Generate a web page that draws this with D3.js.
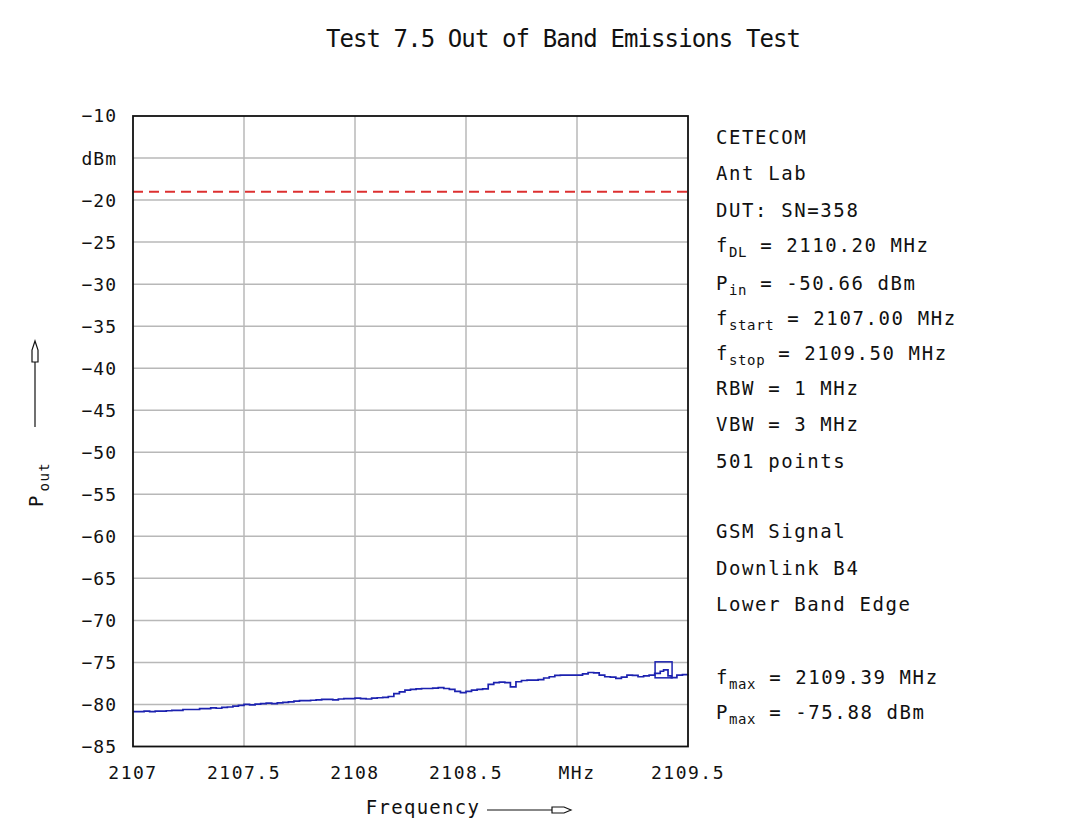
<!DOCTYPE html>
<html><head><meta charset="utf-8">
<script src="https://cdn.jsdelivr.net/npm/d3@7"></script>
<style>
body{margin:0;background:#fff;}
text{font-family:"DejaVu Sans Mono",monospace;fill:#111;}
</style></head>
<body><svg id="c" width="1086" height="818"></svg>
<script>
const title = "Test 7.5 Out of Band Emissions Test";
const xTicks = [2107, 2107.5, 2108, 2108.5, 2109, 2109.5];
const xTickLabels = ["2107", "2107.5", "2108", "2108.5", "MHz", "2109.5"];
const yTicks = [-10,-15,-20,-25,-30,-35,-40,-45,-50,-55,-60,-65,-70,-75,-80,-85];
const yTickLabels = ["-10","dBm","-20","-25","-30","-35","-40","-45","-50","-55","-60","-65","-70","-75","-80","-85"];
const limitLevel = -19;
const freq = [2107.000,2107.025,2107.050,2107.075,2107.100,2107.125,2107.150,2107.175,2107.200,2107.225,
2107.250,2107.275,2107.300,2107.325,2107.350,2107.375,2107.400,2107.425,2107.450,2107.475,
2107.500,2107.525,2107.550,2107.575,2107.600,2107.625,2107.650,2107.675,2107.700,2107.725,
2107.750,2107.775,2107.800,2107.825,2107.850,2107.875,2107.900,2107.925,2107.950,2107.975,
2108.000,2108.025,2108.050,2108.075,2108.100,2108.125,2108.150,2108.175,2108.200,2108.225,
2108.250,2108.275,2108.300,2108.325,2108.350,2108.375,2108.400,2108.425,2108.450,2108.475,
2108.500,2108.525,2108.550,2108.575,2108.600,2108.625,2108.650,2108.675,2108.700,2108.725,
2108.750,2108.775,2108.800,2108.825,2108.850,2108.875,2108.900,2108.925,2108.950,2108.975,
2109.000,2109.025,2109.050,2109.075,2109.100,2109.125,2109.150,2109.175,2109.200,2109.225,
2109.250,2109.275,2109.300,2109.325,2109.350,2109.375,2109.390,2109.410,2109.425,2109.450,
2109.475,2109.500];
const power = [-80.85,-80.85,-80.80,-80.85,-80.80,-80.80,-80.75,-80.70,-80.70,-80.60,
-80.60,-80.60,-80.50,-80.50,-80.40,-80.45,-80.35,-80.30,-80.20,-80.10,
-80.00,-80.05,-79.95,-79.90,-79.85,-79.90,-79.80,-79.75,-79.70,-79.60,
-79.55,-79.55,-79.50,-79.45,-79.40,-79.40,-79.45,-79.35,-79.30,-79.30,
-79.25,-79.30,-79.35,-79.25,-79.20,-79.15,-79.05,-78.70,-78.50,-78.30,
-78.20,-78.15,-78.10,-78.10,-78.05,-78.00,-78.10,-78.20,-78.45,-78.60,
-78.45,-78.30,-78.20,-78.15,-77.60,-77.40,-77.35,-77.40,-77.90,-77.30,
-77.15,-77.10,-77.10,-77.05,-76.85,-76.70,-76.55,-76.50,-76.50,-76.50,
-76.50,-76.35,-76.20,-76.25,-76.50,-76.70,-76.75,-76.90,-76.75,-76.50,
-76.55,-76.70,-76.60,-76.50,-76.30,-76.05,-75.88,-76.60,-76.80,-76.50,
-76.45,-76.40];
const markerF = 2109.39, markerP = -75.88;
const infoLines = [
  {y:137, parts:[["CETECOM"]]},
  {y:173, parts:[["Ant Lab"]]},
  {y:210, parts:[["DUT: SN=358"]]},
  {y:245, parts:[["f"],["DL","sub"],[" = 2110.20 MHz"]]},
  {y:283, parts:[["P"],["in","sub"],[" = -50.66 dBm"]]},
  {y:318, parts:[["f"],["start","sub"],[" = 2107.00 MHz"]]},
  {y:353, parts:[["f"],["stop","sub"],[" = 2109.50 MHz"]]},
  {y:388, parts:[["RBW = 1 MHz"]]},
  {y:424, parts:[["VBW = 3 MHz"]]},
  {y:461, parts:[["501 points"]]},
  {y:531, parts:[["GSM Signal"]]},
  {y:568, parts:[["Downlink B4"]]},
  {y:604, parts:[["Lower Band Edge"]]},
  {y:677, parts:[["f"],["max","sub"],[" = 2109.39 MHz"]]},
  {y:712, parts:[["P"],["max","sub"],[" = -75.88 dBm"]]}
];

const svg = d3.select("#c");
const L=133, R=688, T=116, B=746.5;
const x = d3.scaleLinear().domain([2107,2109.5]).range([L,R]);
const y = d3.scaleLinear().domain([-85,-10]).range([B,T]);

// title
svg.append("text").attr("x",563).attr("y",47).attr("text-anchor","middle")
  .style("font-size","24px").style("letter-spacing","-0.9px").text(title);

// grid
const g = svg.append("g");
g.selectAll(".hg").data(yTicks.filter(v=>v!==-10&&v!==-85)).enter().append("line")
  .attr("x1",L).attr("x2",R).attr("y1",d=>y(d)).attr("y2",d=>y(d))
  .attr("stroke","#b8b8b8").attr("stroke-width",1.5);
g.selectAll(".vg").data(xTicks.filter(v=>v!==2107&&v!==2109.5)).enter().append("line")
  .attr("y1",T).attr("y2",B).attr("x1",d=>x(d)).attr("x2",d=>x(d))
  .attr("stroke","#b8b8b8").attr("stroke-width",1.5);

// limit line
g.append("line").attr("x1",L).attr("x2",R).attr("y1",y(limitLevel)).attr("y2",y(limitLevel))
  .attr("stroke","#dd3030").attr("stroke-width",2).attr("stroke-dasharray","10,6");

// trace
const line = d3.line().x((d,i)=>x(freq[i])).y(d=>y(d)).curve(d3.curveStepAfter);
g.append("path").attr("d",line(power)).attr("fill","none")
  .attr("stroke","#1c22b0").attr("stroke-width",1.7);

// marker box
g.append("rect").attr("x",x(markerF)-8.5).attr("y",y(markerP)-8).attr("width",17).attr("height",16)
  .attr("fill","none").attr("stroke","#1c22b0").attr("stroke-width",1.5);

// frame
svg.append("rect").attr("x",L).attr("y",T).attr("width",R-L).attr("height",B-T)
  .attr("fill","none").attr("stroke","#111").attr("stroke-width",1.8);

// y tick labels
svg.selectAll(".yl").data(yTicks).enter().append("text")
  .attr("x",117).attr("y",d=>y(d)).attr("dy","0.36em").attr("text-anchor","end")
  .style("font-size","18px").style("letter-spacing","1px")
  .text((d,i)=>yTickLabels[i].replace("-","\u2212"));

// x tick labels
svg.selectAll(".xl").data(xTicks).enter().append("text")
  .attr("x",d=>x(d)).attr("y",779).attr("text-anchor","middle")
  .style("font-size","18px").style("letter-spacing","1.5px")
  .text((d,i)=>xTickLabels[i]);

// x axis title with arrow
svg.append("text").attr("x",423).attr("y",814).attr("text-anchor","middle")
  .style("font-size","19px").style("letter-spacing","1.3px").text("Frequency");
svg.append("line").attr("x1",487).attr("x2",552).attr("y1",810).attr("y2",810).attr("stroke","#111").attr("stroke-width",1.2);
svg.append("path").attr("d","M552,807 L564,807 L571,810 L564,813 L552,813 Z").attr("fill","none").attr("stroke","#111").attr("stroke-width",1.2);

// y axis title with arrow
const yt = svg.append("text").attr("transform","translate(43,507) rotate(-90)")
  .style("font-size","19px");
yt.append("tspan").text("P");
yt.append("tspan").attr("dx",4).attr("dy",6).style("font-size","14px").style("letter-spacing","1.5px").text("out");
svg.append("line").attr("x1",35).attr("x2",35).attr("y1",427).attr("y2",362).attr("stroke","#111").attr("stroke-width",1.2);
svg.append("path").attr("d","M32,362 L32,350 L35,341 L38,350 L38,362 Z").attr("fill","none").attr("stroke","#111").attr("stroke-width",1.2);

// info text
infoLines.forEach(l=>{
  const t = svg.append("text").attr("x",716).attr("y",l.y+7)
    .style("font-size","19px").style("letter-spacing","1.6px");
  l.parts.forEach(p=>{
    const s = t.append("tspan").text(p[0]);
    if(p[1]==="sub"){ s.attr("dy",5).style("font-size","14px").style("letter-spacing","0.6px"); }
    else if(t.selectAll("tspan").size()>1){ s.attr("dy",-5); }
  });
});
</script></body></html>
